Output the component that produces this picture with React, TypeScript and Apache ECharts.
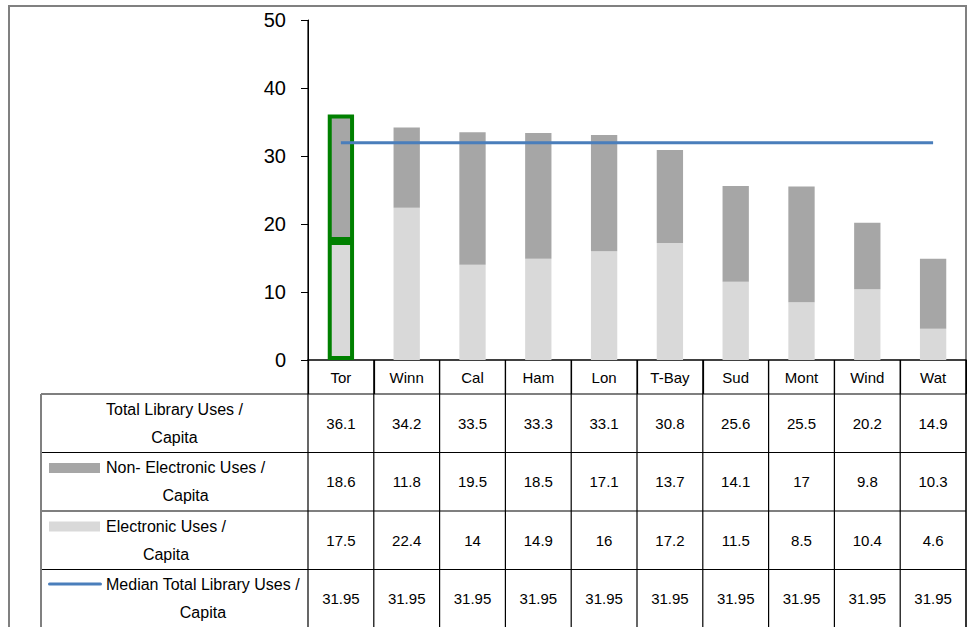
import React, { useEffect, useRef } from "react";
import * as echarts from "echarts";

const categories = ["Tor", "Winn", "Cal", "Ham", "Lon", "T-Bay", "Sud", "Mont", "Wind", "Wat"];
const totalUses = [36.1, 34.2, 33.5, 33.3, 33.1, 30.8, 25.6, 25.5, 20.2, 14.9];
const nonElectronic = [18.6, 11.8, 19.5, 18.5, 17.1, 13.7, 14.1, 17, 9.8, 10.3];
const electronic = [17.5, 22.4, 14, 14.9, 16, 17.2, 11.5, 8.5, 10.4, 4.6];
const medianTotal = [31.95, 31.95, 31.95, 31.95, 31.95, 31.95, 31.95, 31.95, 31.95, 31.95];
const yMin = 0;
const yMax = 50;
const yInterval = 10;

const rowLabels: string[][] = [
  ["Total Library Uses /", "Capita"],
  ["Non- Electronic Uses /", "Capita"],
  ["Electronic Uses /", "Capita"],
  ["Median Total Library Uses /", "Capita"],
];
const rowKeys = ["none", "nonElec", "elec", "median"];
const rowValues = [totalUses, nonElectronic, electronic, medianTotal];

const FONT = "'Liberation Sans', Arial, Helvetica, sans-serif";
const C_NON = "#a6a6a6";
const C_ELEC = "#d9d9d9";
const C_MED = "#4a7ebb";
const C_HL = "#008000";

export default function App() {
  const ref = useRef<HTMLDivElement>(null);
  useEffect(() => {
    if (!ref.current) return;
    const chart = echarts.init(ref.current, undefined, { renderer: "svg" });
    const hl = (arr: number[]) =>
      arr.map((v, i) =>
        i === 0 ? { value: v, itemStyle: { borderColor: C_HL, borderWidth: 4 } } : v
      );
    chart.setOption({
      animation: false,
      backgroundColor: "#ffffff",
      textStyle: { fontFamily: FONT },
      grid: { left: 308, right: 1, top: 20, bottom: 267 },
      xAxis: {
        type: "category",
        data: categories,
        boundaryGap: true,
        axisLine: { show: true, lineStyle: { color: "#000", width: 1.5 } },
        axisTick: { show: true, length: 34, interval: 0, lineStyle: { color: "#000", width: 1.2 } },
        axisLabel: { interval: 0, margin: 10, fontSize: 15, color: "#000", fontFamily: FONT },
        splitLine: { show: false },
      },
      yAxis: {
        type: "value",
        min: yMin,
        max: yMax,
        interval: yInterval,
        axisLine: { show: true, lineStyle: { color: "#000", width: 1 } },
        axisTick: { show: true, length: 7, lineStyle: { color: "#000" } },
        axisLabel: { margin: 22, fontSize: 20, color: "#000", fontFamily: FONT },
        splitLine: { show: false },
      },
      series: [
        {
          name: "Electronic Uses / Capita",
          type: "bar",
          stack: "uses",
          barWidth: "40%",
          itemStyle: { color: C_ELEC },
          data: hl(electronic),
        },
        {
          name: "Non- Electronic Uses / Capita",
          type: "bar",
          stack: "uses",
          barWidth: "40%",
          itemStyle: { color: C_NON },
          data: hl(nonElectronic),
        },
        {
          name: "Median Total Library Uses / Capita",
          type: "line",
          data: medianTotal,
          symbol: "none",
          lineStyle: { color: C_MED, width: 3 },
          z: 5,
        },
      ],
    });

    // Build the data table from axis positions
    const x0 = chart.convertToPixel({ xAxisIndex: 0 }, categories[0]) as number;
    const x1 = chart.convertToPixel({ xAxisIndex: 0 }, categories[1]) as number;
    const band = x1 - x0;
    const baseY = chart.convertToPixel({ yAxisIndex: 0 }, 0) as number;
    const axisLeft = x0 - band / 2;
    const right = axisLeft + band * categories.length;
    const tableLeft = 41;
    const headerH = 34;
    const rowH = 58.5;
    const rowTop = (r: number) => baseY + headerH + r * rowH;
    const bottom = 640;
    const labelFont = `16px ${FONT}`;
    const valueFont = `15px ${FONT}`;

    const canvas = document.createElement("canvas");
    const ctx = canvas.getContext("2d")!;
    ctx.font = labelFont;

    const els: any[] = [];
    els.push({
      type: "rect",
      shape: { x: 9, y: 6, width: 957, height: 700 },
      style: { fill: "none", stroke: "#808080", lineWidth: 2 },
      silent: true,
      z: 0,
    });
    for (let r = 0; r < 4; r++) {
      els.push({
        type: "line",
        shape: { x1: tableLeft, y1: rowTop(r), x2: right, y2: rowTop(r) },
        style: { stroke: "#000", lineWidth: 1.2 },
        z: 10,
      });
    }
    els.push({
      type: "line",
      shape: { x1: tableLeft, y1: rowTop(0), x2: tableLeft, y2: bottom },
      style: { stroke: "#808080", lineWidth: 2 },
      z: 10,
    });
    for (let i = 0; i <= categories.length; i++) {
      const x = axisLeft + i * band;
      els.push({
        type: "line",
        shape: { x1: x, y1: i === 0 ? 20 : baseY, x2: x, y2: bottom },
        style: { stroke: "#000", lineWidth: 1.2 },
        z: 10,
      });
    }
    rowLabels.forEach((lines, r) => {
      const top = rowTop(r);
      const tx = 106;
      const w1 = ctx.measureText(lines[0]).width;
      els.push({
        type: "text",
        x: tx,
        y: top + 15,
        style: { text: lines[0], font: labelFont, fill: "#000", align: "left", verticalAlign: "middle" },
        z: 11,
      });
      els.push({
        type: "text",
        x: tx + w1 / 2,
        y: top + 43,
        style: { text: lines[1], font: labelFont, fill: "#000", align: "center", verticalAlign: "middle" },
        z: 11,
      });
      const key = rowKeys[r];
      if (key === "nonElec" || key === "elec") {
        els.push({
          type: "rect",
          shape: { x: 49, y: top + 10.5, width: 51, height: 10 },
          style: { fill: key === "nonElec" ? C_NON : C_ELEC },
          z: 11,
        });
      } else if (key === "median") {
        els.push({
          type: "line",
          shape: { x1: 49.5, y1: top + 14.5, x2: 100.5, y2: top + 14.5 },
          style: { stroke: C_MED, lineWidth: 3, lineCap: "round" },
          z: 11,
        });
      }
      rowValues[r].forEach((v, i) => {
        const cx = chart.convertToPixel({ xAxisIndex: 0 }, categories[i]) as number;
        els.push({
          type: "text",
          x: cx,
          y: top + rowH / 2,
          style: { text: String(v), font: valueFont, fill: "#000", align: "center", verticalAlign: "middle" },
          z: 11,
        });
      });
    });

    chart.setOption({ graphic: { elements: els } });
    return () => chart.dispose();
  }, []);
  return (
    <div
      ref={ref}
      style={{ position: "fixed", left: 0, top: 0, width: 967, height: 627, background: "#fff" }}
    />
  );
}
